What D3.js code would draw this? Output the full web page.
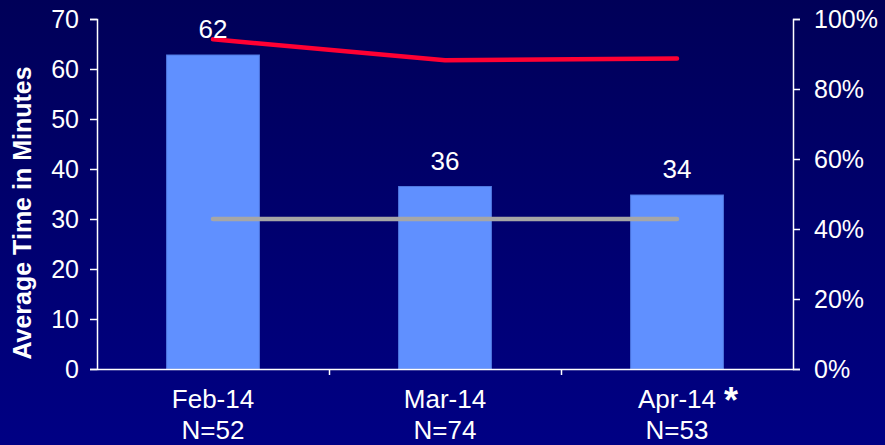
<!DOCTYPE html>
<html>
<head>
<meta charset="utf-8">
<script src="https://cdn.jsdelivr.net/npm/d3@7"></script>
<style>
  html, body { margin: 0; padding: 0; background: #000070; }
  svg { display: block; font-family: Arial, 'Liberation Sans', sans-serif; }
</style>
</head>
<body>
<svg id="chart" width="885" height="445"></svg>
<script>
const months = ['Feb-14', 'Mar-14', 'Apr-14'];
const counts = ['N=52', 'N=74', 'N=53'];
const avgMinutes = [62.8, 36.5, 34.8];
const pctOnTime = [0.942, 0.882, 0.887];
const targetMinutes = [30, 30, 30];
const leftTicks = [0, 10, 20, 30, 40, 50, 60, 70];
const rightTicks = [0, 0.2, 0.4, 0.6, 0.8, 1];

const width = 885;
const height = 445;
const plotLeft = 97;
const plotRight = 793;
const plotTop = 19;
const plotBottom = 369;

const svg = d3.select('#chart');

// background gradient
const grad = svg.append('defs').append('linearGradient')
  .attr('id', 'bg').attr('x1', 0).attr('y1', 0).attr('x2', 0).attr('y2', 1);
grad.append('stop').attr('offset', '0%').attr('stop-color', '#000058');
grad.append('stop').attr('offset', '100%').attr('stop-color', '#000084');
svg.append('rect').attr('width', width).attr('height', height).attr('fill', 'url(#bg)');

const x = d3.scaleBand().domain(months).range([plotLeft, plotRight])
  .paddingInner(0.6).paddingOuter(0.3);
const y = d3.scaleLinear().domain([0, 70]).range([plotBottom, plotTop]);
const y2 = d3.scaleLinear().domain([0, 1]).range([plotBottom, plotTop]);
const cx = (d) => x(d) + x.bandwidth() / 2;

// bars
svg.append('g').selectAll('rect')
  .data(months)
  .join('rect')
  .attr('x', (d) => x(d))
  .attr('y', (d, i) => y(avgMinutes[i]))
  .attr('width', x.bandwidth())
  .attr('height', (d, i) => plotBottom - y(avgMinutes[i]))
  .attr('fill', '#6090ff')
  .attr('stroke', '#4f78e0')
  .attr('stroke-width', 1);

// target line (grey) and on-time line (red)
const line = d3.line().x((d) => d[0]).y((d) => d[1]);
svg.append('path')
  .datum(months.map((m, i) => [cx(m), y(targetMinutes[i])]))
  .attr('d', line)
  .attr('fill', 'none')
  .attr('stroke', '#a6a6a6')
  .attr('stroke-width', 4.5)
  .attr('stroke-linecap', 'round');

svg.append('path')
  .datum(months.map((m, i) => [cx(m), y2(pctOnTime[i])]))
  .attr('d', line)
  .attr('fill', 'none')
  .attr('stroke', '#ff0033')
  .attr('stroke-width', 4.5)
  .attr('stroke-linecap', 'round')
  .attr('stroke-linejoin', 'round');

// value labels
svg.append('g').selectAll('text')
  .data(months)
  .join('text')
  .attr('x', cx)
  .attr('y', (d, i) => y(avgMinutes[i]) - 17)
  .attr('text-anchor', 'middle')
  .attr('fill', '#fff')
  .attr('font-size', 26)
  .text((d, i) => Math.floor(avgMinutes[i]));

// axes
const styleAxis = (g) => {
  g.selectAll('path, line').attr('stroke', '#fff').attr('stroke-width', 1.5);
  g.selectAll('text').attr('fill', '#fff').attr('font-size', 25).attr('font-family', null);
};

svg.append('g')
  .attr('transform', `translate(${plotLeft},0)`)
  .call(d3.axisLeft(y).tickValues(leftTicks).tickSize(7).tickSizeOuter(7).tickPadding(11))
  .call(styleAxis);

svg.append('g')
  .attr('transform', `translate(${plotRight},0)`)
  .call(d3.axisRight(y2).tickValues(rightTicks).tickSize(7).tickSizeOuter(7).tickPadding(14)
    .tickFormat(d3.format('.0%')))
  .call(styleAxis);

// x axis: line with ticks between categories
const xb = d3.scaleLinear().domain([0, months.length]).range([plotLeft, plotRight]);
svg.append('g')
  .attr('transform', `translate(0,${plotBottom})`)
  .call(d3.axisBottom(xb).tickValues([1, 2]).tickSize(6).tickSizeOuter(0).tickFormat(''))
  .call(styleAxis);

// category labels (two lines)
const cat = svg.append('g').selectAll('g')
  .data(months)
  .join('g')
  .attr('transform', (d) => `translate(${cx(d)},0)`);
cat.append('text')
  .attr('y', 408)
  .attr('text-anchor', 'middle')
  .attr('fill', '#fff')
  .attr('font-size', 26)
  .text((d) => d);
cat.append('text')
  .attr('y', 439)
  .attr('text-anchor', 'middle')
  .attr('fill', '#fff')
  .attr('font-size', 26)
  .text((d, i) => counts[i]);

// footnote marker on the last month
svg.append('text')
  .attr('x', cx(months[2]) + 47)
  .attr('y', 413)
  .attr('fill', '#fff')
  .attr('font-size', 36)
  .attr('font-weight', 'bold')
  .text('*');

// y axis title
svg.append('text')
  .attr('transform', `translate(31,${(plotTop + plotBottom) / 2 + 19}) rotate(-90)`)
  .attr('text-anchor', 'middle')
  .attr('fill', '#fff')
  .attr('font-size', 25)
  .attr('font-weight', 'bold')
  .text('Average Time in Minutes');
</script>
</body>
</html>
